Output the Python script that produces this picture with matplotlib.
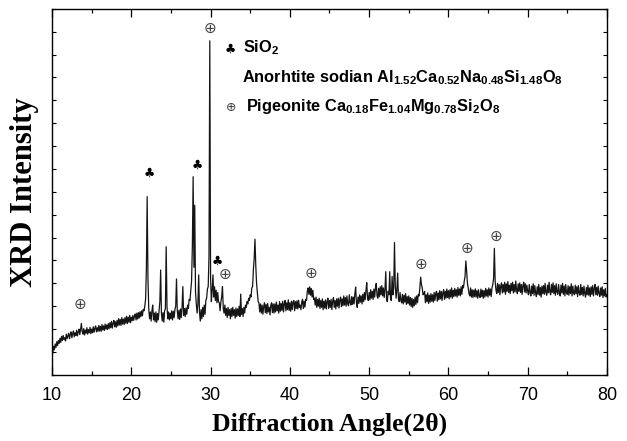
import numpy as np
import matplotlib
matplotlib.use("Agg")
import matplotlib.pyplot as plt
from matplotlib.ticker import MultipleLocator

plt.rcParams['mathtext.fontset'] = 'custom'
plt.rcParams['mathtext.rm'] = 'Liberation Sans'
plt.rcParams['mathtext.bf'] = 'Liberation Sans:bold'

# 2-theta grid, 0.1 deg step, 10..80
two_theta = np.linspace(10, 80, 701)

# intensity, one row per degree (arb. units)
intensity = [
    1.05, 0.95, 1.25, 1.10, 1.35, 1.20, 1.45, 1.28, 1.50, 1.38,
    1.60, 1.42, 1.68, 1.50, 1.72, 1.55, 1.62, 1.48, 1.78, 1.58,
    1.70, 1.82, 1.58, 1.76, 1.88, 1.62, 1.80, 1.92, 1.66, 1.84,
    1.72, 1.95, 1.70, 1.88, 2.00, 1.76, 1.98, 2.25, 1.90, 1.78,
    2.02, 1.74, 1.96, 1.82, 2.06, 1.78, 1.98, 1.84, 2.08, 1.80,
    2.00, 1.84, 2.10, 1.86, 2.04, 2.14, 1.88, 2.06, 1.90, 2.16,
    1.92, 2.12, 1.90, 2.20, 1.96, 2.14, 1.94, 2.22, 2.00, 2.18,
    1.98, 2.24, 2.02, 2.28, 2.06, 2.34, 2.04, 2.26, 2.38, 2.10,
    2.32, 2.08, 2.38, 2.14, 2.46, 2.18, 2.42, 2.16, 2.50, 2.22,
    2.44, 2.20, 2.50, 2.26, 2.56, 2.24, 2.52, 2.30, 2.60, 2.28,
    2.52, 2.36, 2.60, 2.38, 2.56, 2.66, 2.40, 2.70, 2.44, 2.72,
    2.48, 2.76, 2.54, 2.80, 2.58, 2.86, 2.80, 3.00, 3.30, 4.60,
    7.79, 4.20, 2.90, 2.45, 2.75, 2.35, 2.80, 3.05, 2.40, 2.70,
    2.32, 2.75, 2.30, 2.68, 2.40, 2.80, 3.20, 4.58, 2.70, 2.35,
    2.72, 2.30, 2.80, 2.90, 5.60, 3.00, 2.45, 2.75, 2.40, 2.70,
    2.45, 2.80, 2.40, 2.78, 2.50, 2.85, 3.00, 4.19, 2.80, 2.45,
    2.82, 2.42, 2.88, 2.50, 2.95, 3.86, 2.60, 2.90, 2.55, 2.92,
    2.65, 3.05, 2.90, 3.30, 3.25, 3.70, 4.10, 5.60, 8.66, 4.70,
    7.42, 3.60, 3.10, 2.70, 3.10, 4.37, 2.75, 2.35, 2.85, 2.45,
    2.95, 2.55, 3.05, 2.65, 3.25, 3.35, 3.75, 3.85, 5.20, 14.60,
    4.20, 3.20, 3.70, 4.37, 3.40, 3.85, 3.25, 3.70, 3.15, 3.60,
    3.20, 3.15, 2.80, 3.20, 3.40, 3.86, 2.90, 2.70, 3.05, 2.60,
    2.90, 2.50, 2.95, 2.60, 2.85, 2.45, 2.90, 2.55, 2.95, 2.60,
    2.85, 2.48, 2.92, 2.55, 2.88, 2.60, 3.00, 2.55, 3.53, 2.65,
    2.90, 2.55, 2.95, 2.70, 3.05, 2.95, 3.20, 3.10, 3.35, 3.25,
    3.50, 3.40, 3.80, 3.85, 4.60, 5.10, 5.93, 4.80, 4.00, 3.60,
    3.20, 3.15, 2.75, 3.10, 2.70, 3.05, 2.65, 3.00, 3.15, 2.72,
    3.08, 2.68, 3.12, 2.75, 2.95, 2.62, 3.05, 3.15, 2.72, 3.10,
    2.70, 3.10, 2.75, 3.18, 2.80, 3.05, 2.70, 3.20, 2.78, 3.12,
    2.82, 3.22, 2.75, 3.10, 3.25, 2.80, 3.15, 2.85, 3.28, 2.82,
    3.15, 2.78, 3.22, 2.85, 3.18, 3.25, 2.80, 3.20, 2.90, 3.24,
    2.88, 3.26, 2.95, 3.05, 2.85, 3.20, 3.30, 2.90, 3.22, 2.96,
    3.30, 3.25, 3.65, 3.80, 3.52, 3.85, 3.48, 3.78, 3.40, 3.70,
    3.30, 3.35, 3.05, 3.40, 2.95, 3.30, 3.00, 3.35, 2.90, 3.25,
    2.95, 3.32, 2.85, 3.22, 2.92, 3.28, 2.88, 3.20, 3.35, 2.90,
    3.25, 2.95, 3.30, 2.85, 3.22, 3.38, 2.95, 3.25, 2.88, 3.32,
    3.00, 3.35, 2.92, 3.28, 3.40, 2.98, 3.32, 3.02, 3.45, 3.05,
    3.38, 3.00, 3.45, 3.10, 3.02, 3.50, 3.15, 3.05, 3.42, 3.08,
    3.40, 3.10, 3.55, 3.84, 3.15, 2.95, 3.40, 3.12, 3.50, 3.18,
    3.45, 3.10, 3.52, 3.20, 3.60, 3.28, 3.70, 4.03, 3.35, 3.25,
    3.60, 3.28, 3.72, 3.35, 3.65, 3.30, 3.75, 3.40, 3.80, 4.00,
    3.45, 3.35, 3.78, 3.42, 3.85, 3.50, 3.90, 3.45, 3.80, 3.38,
    3.75, 4.51, 3.30, 3.20, 3.65, 3.50, 4.51, 3.35, 3.25, 4.30,
    3.50, 3.80, 5.78, 3.90, 3.35, 3.70, 4.45, 3.30, 3.20, 3.60,
    3.25, 3.15, 3.52, 3.10, 3.48, 3.18, 3.55, 3.08, 3.42, 3.12,
    3.45, 3.05, 3.38, 2.98, 3.35, 2.95, 3.30, 3.02, 3.40, 3.08,
    3.45, 3.15, 3.52, 3.45, 3.80, 4.27, 3.95, 3.80, 3.50, 3.55,
    3.65, 3.15, 3.50, 3.20, 3.58, 3.12, 3.48, 3.18, 3.55, 3.22,
    3.50, 3.18, 3.60, 3.25, 3.55, 3.65, 3.22, 3.58, 3.28, 3.68,
    3.32, 3.65, 3.25, 3.60, 3.72, 3.30, 3.65, 3.35, 3.75, 3.38,
    3.68, 3.32, 3.72, 3.40, 3.80, 3.35, 3.70, 3.42, 3.78, 3.45,
    3.72, 3.40, 3.82, 3.48, 3.75, 3.45, 3.85, 3.52, 3.90, 3.80,
    4.10, 4.30, 4.98, 4.55, 4.00, 3.80, 3.55, 3.45, 3.80, 3.40,
    3.72, 3.38, 3.70, 3.42, 3.76, 3.40, 3.68, 3.35, 3.72, 3.45,
    3.38, 3.75, 3.42, 3.70, 3.35, 3.68, 3.40, 3.78, 3.45, 3.72,
    3.40, 3.80, 3.48, 3.75, 3.42, 3.80, 3.95, 4.20, 5.53, 4.10,
    3.70, 3.55, 4.00, 3.60, 3.95, 3.50, 3.88, 4.02, 3.58, 3.95,
    3.62, 4.05, 3.52, 3.98, 3.65, 4.08, 3.60, 3.92, 3.55, 4.00,
    3.68, 4.05, 3.58, 3.95, 3.62, 4.10, 3.70, 3.55, 3.98, 3.65,
    4.02, 3.60, 3.95, 3.52, 3.90, 4.05, 3.62, 3.98, 3.58, 3.92,
    3.65, 3.50, 3.95, 3.60, 3.45, 3.88, 3.55, 3.98, 3.48, 3.90,
    3.58, 3.42, 3.85, 3.52, 3.95, 3.48, 3.82, 3.40, 3.88, 3.55,
    3.90, 3.52, 4.00, 3.60, 3.48, 3.92, 3.58, 4.05, 3.62, 3.50,
    3.95, 3.60, 4.02, 3.55, 3.90, 3.48, 3.98, 3.62, 3.52, 3.95,
    3.60, 3.45, 3.92, 3.58, 4.00, 3.52, 3.88, 3.45, 3.95, 3.60,
    3.52, 3.90, 3.48, 3.85, 3.55, 3.98, 3.45, 3.88, 3.58, 3.50,
    3.92, 3.55, 3.85, 3.42, 3.90, 3.58, 3.48, 3.95, 3.52, 3.82,
    3.45, 3.88, 3.55, 3.40, 3.82, 3.50, 3.92, 3.48, 3.80, 3.42,
    3.85, 3.52, 3.90, 3.45, 3.78, 3.95, 3.50, 3.82, 3.48, 3.88,
    3.55, 3.42, 3.80, 3.48, 3.85, 3.38, 3.72, 3.45, 3.78, 3.40,
    3.49,
]

# phase markers above the peaks
sio2_x = [22.2, 28.37, 30.9]
sio2_y = [8.8, 9.17, 4.95]
pigeonite_x = [13.5, 29.9, 31.77, 42.65, 56.6, 62.37, 66.0]
pigeonite_y = [3.06, 15.15, 4.41, 4.44, 4.85, 5.53, 6.07]

x_ticks = [10, 20, 30, 40, 50, 60, 70, 80]

fig = plt.figure(figsize=(6.27, 4.41), dpi=100)
ax = fig.add_axes([0.083, 0.150, 0.885, 0.830])

ax.plot(two_theta, intensity, color='#151515', lw=0.9)

sym = ['DejaVu Sans']
for x, y in zip(sio2_x, sio2_y):
    ax.text(x, y, '\u2663', family=sym, fontsize=9, ha='center', va='center', color='black')
for x, y in zip(pigeonite_x, pigeonite_y):
    ax.text(x, y, '\u2295', family=sym, fontsize=11, ha='center', va='center', color='#444444')

ax.set_xlim(10, 80)
ax.set_ylim(0, 16)
ax.set_xticks(x_ticks)
ax.xaxis.set_minor_locator(MultipleLocator(5))
ax.yaxis.set_major_locator(MultipleLocator(1))
ax.set_yticklabels([])
ax.tick_params(axis='x', which='major', direction='in', length=6, width=0.9,
               top=True, labelsize=13, pad=9)
ax.tick_params(axis='x', which='minor', direction='in', length=3, width=0.9, top=True)
ax.tick_params(axis='y', which='major', direction='in', length=3, width=0.8, right=True)
for lbl in ax.get_xticklabels():
    lbl.set_family('Liberation Sans')
for s in ax.spines.values():
    s.set_linewidth(1.0)

ax.set_xlabel('Diffraction Angle(2\u03b8)', family='Liberation Serif', fontweight='bold',
              fontsize=18.5, labelpad=6)
ax.set_ylabel('XRD Intensity', family='Liberation Serif', fontweight='bold',
              fontsize=22, labelpad=6)

# legend block
lf = dict(family=['Liberation Sans', 'DejaVu Sans'], fontweight='bold', fontsize=11.8,
          transform=ax.transAxes, va='baseline')
ax.text(0.322, 0.88, '\u2663', family=sym, fontsize=9, color='black',
        transform=ax.transAxes, va='baseline', ha='center')
ax.text(0.344, 0.88, r'SiO$_\mathbf{2}$', **lf)
ax.text(0.342, 0.798, r'Anorhtite sodian Al$_\mathbf{1.52}$Ca$_\mathbf{0.52}$'
        r'Na$_\mathbf{0.48}$Si$_\mathbf{1.48}$O$_\mathbf{8}$', **lf)
ax.text(0.322, 0.722, '\u2295', family=sym, fontsize=9, color='#444444',
        transform=ax.transAxes, va='baseline', ha='center')
ax.text(0.349, 0.722, r'Pigeonite Ca$_\mathbf{0.18}$Fe$_\mathbf{1.04}$'
        r'Mg$_\mathbf{0.78}$Si$_\mathbf{2}$O$_\mathbf{8}$', **lf)

fig.savefig('out.png', dpi=100)
